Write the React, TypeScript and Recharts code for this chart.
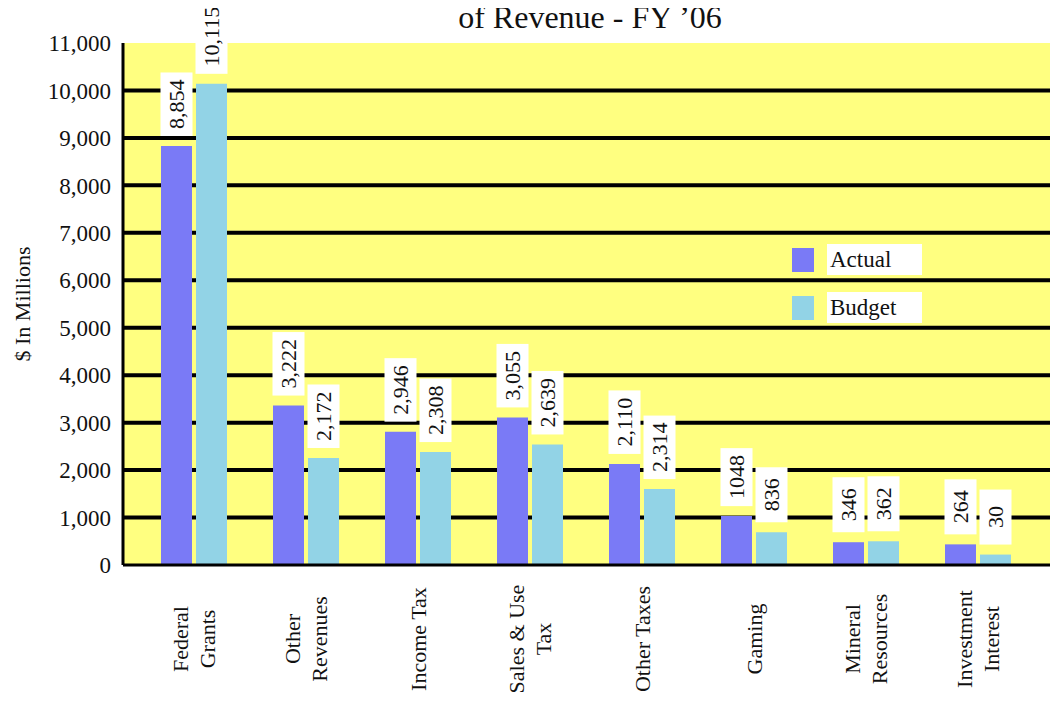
import React from "react";
import { BarChart, Bar, XAxis, YAxis, CartesianGrid, Legend, LabelList } from "recharts";

const categories = [
  "Federal Grants",
  "Other Revenues",
  "Income Tax",
  "Sales & Use Tax",
  "Other Taxes",
  "Gaming",
  "Mineral Resources",
  "Investment Interest",
];
const tickLines = [
  ["Federal", "Grants"],
  ["Other", "Revenues"],
  ["Income Tax"],
  ["Sales & Use", "Tax"],
  ["Other Taxes"],
  ["Gaming"],
  ["Mineral", "Resources"],
  ["Investment", "Interest"],
];
// bar heights as drawn in the picture
const actual = [8830, 3360, 2810, 3110, 2130, 1030, 480, 435];
const budget = [10140, 2255, 2380, 2540, 1600, 690, 500, 220];
// printed value labels (they don't always match the bars)
const actualLabels = ["8,854", "3,222", "2,946", "3,055", "2,110", "1048", "346", "264"];
const budgetLabels = ["10,115", "2,172", "2,308", "2,639", "2,314", "836", "362", "30"];
const yTicks = [0, 1000, 2000, 3000, 4000, 5000, 6000, 7000, 8000, 9000, 10000, 11000];
const gridValues = [1000, 2000, 3000, 4000, 5000, 6000, 7000, 8000, 9000, 10000];

const FONT = '"Liberation Serif", "Times New Roman", serif';
const ACTUAL = "#7a7af6";
const BUDGET = "#92d3e6";
const YELLOW = "#ffff80";

const data = categories.map((name, i) => ({
  name,
  actual: actual[i],
  budget: budget[i],
  actualLabel: actualLabels[i],
  budgetLabel: budgetLabels[i],
}));

const textWidth = (s: string, size: number) => {
  let w = 0;
  for (const ch of s) w += ch === "," ? 0.25 : 0.5;
  return w * size;
};

const BoxLabel = (props: any) => {
  const { x, y, width, value } = props;
  const cx = Number(x) + Number(width) / 2;
  const h = Math.max(55, textWidth(String(value), 22) + 14);
  const bottom = Number(y) - 10;
  return (
    <g>
      <rect x={cx - 16} y={bottom - h} width={32} height={h} fill="#fff" />
      <text
        transform={`translate(${cx},${bottom - h / 2}) rotate(-90)`}
        textAnchor="middle"
        dominantBaseline="central"
        fontFamily={FONT}
        fontSize={22}
        fill="#111"
      >
        {value}
      </text>
    </g>
  );
};

const CategoryTick = (props: any) => {
  const { x, y, payload } = props;
  const lines = tickLines[payload.index] || [payload.value];
  const n = lines.length;
  return (
    <g transform={`translate(${x},${y + 74}) rotate(-90)`}>
      {lines.map((l, i) => (
        <text
          key={i}
          x={0}
          y={(i - (n - 1) / 2) * 27}
          textAnchor="middle"
          dominantBaseline="central"
          fontFamily={FONT}
          fontSize={22}
          fill="#111"
        >
          {l}
        </text>
      ))}
    </g>
  );
};

const renderLegend = () => (
  <div style={{ fontFamily: FONT, fontSize: 23, color: "#111" }}>
    {[
      { label: "Actual", color: ACTUAL },
      { label: "Budget", color: BUDGET },
    ].map((it, i) => (
      <div key={it.label} style={{ display: "flex", alignItems: "center", height: 31, marginTop: i ? 17 : 0 }}>
        <div style={{ width: 22, height: 24, background: it.color }} />
        <div style={{ marginLeft: 13, width: 92, height: 31, lineHeight: "31px", background: "#fff", paddingLeft: 3 }}>
          {it.label}
        </div>
      </div>
    ))}
  </div>
);

const YLabel = (props: any) => {
  const vb = props.viewBox || { y: 43, height: 522 };
  const cy = vb.y + vb.height / 2;
  return (
    <text
      transform={`translate(22,${cy}) rotate(-90)`}
      textAnchor="middle"
      dominantBaseline="central"
      fontFamily={FONT}
      fontSize={22}
      fill="#111"
    >
      $ In Millions
    </text>
  );
};

export default function App() {
  return (
    <div style={{ margin: -8, position: "relative", width: 1058, height: 703, background: "#fff", overflow: "hidden" }}>
      <div
        style={{
          position: "absolute",
          top: 1,
          left: 0,
          width: 1180,
          textAlign: "center",
          fontFamily: FONT,
          fontSize: 32,
          lineHeight: "32px",
          color: "#111",
          zIndex: 2,
        }}
      >
        of Revenue - FY ’06
      </div>
      <BarChart
        width={1058}
        height={703}
        data={data}
        margin={{ top: 43, right: 6, bottom: 0, left: 0 }}
        barSize={31}
        barGap={4}
      >
        <CartesianGrid
          vertical={false}
          horizontalValues={gridValues}
          stroke="#000"
          strokeWidth={4}
          fill={YELLOW}
          fillOpacity={1}
        />
        <XAxis
          dataKey="name"
          height={138}
          interval={0}
          padding={{ left: 15, right: 18 }}
          axisLine={{ stroke: "#000", strokeWidth: 3 }}
          tickLine={false}
          tickSize={0}
          tickMargin={0}
          tick={<CategoryTick />}
        />
        <XAxis
          xAxisId="top"
          orientation="top"
          dataKey="name"
          height={0}
          tick={false}
          tickLine={false}
          axisLine={{ stroke: "#000", strokeWidth: 2 }}
        />
        <YAxis
          width={123}
          domain={[0, 11000]}
          ticks={yTicks}
          interval={0}
          tickFormatter={(v: number) => v.toLocaleString("en-US")}
          axisLine={{ stroke: "#000", strokeWidth: 3 }}
          tickLine={false}
          tickSize={0}
          tickMargin={12}
          tick={{ fontFamily: FONT, fontSize: 23, fill: "#111" }}
          label={<YLabel />}
        />
        <YAxis
          yAxisId="right"
          orientation="right"
          width={0}
          domain={[0, 11000]}
          tick={false}
          tickLine={false}
          axisLine={{ stroke: "#000", strokeWidth: 2 }}
        />
        <Legend
          layout="vertical"
          align="center"
          verticalAlign="middle"
          content={renderLegend}
          wrapperStyle={{ left: 792, top: 244, width: 140 }}
        />
        <Bar dataKey="actual" name="Actual" fill={ACTUAL} isAnimationActive={false}>
          <LabelList dataKey="actualLabel" content={<BoxLabel />} />
        </Bar>
        <Bar dataKey="budget" name="Budget" fill={BUDGET} isAnimationActive={false}>
          <LabelList dataKey="budgetLabel" content={<BoxLabel />} />
        </Bar>
      </BarChart>
    </div>
  );
}
